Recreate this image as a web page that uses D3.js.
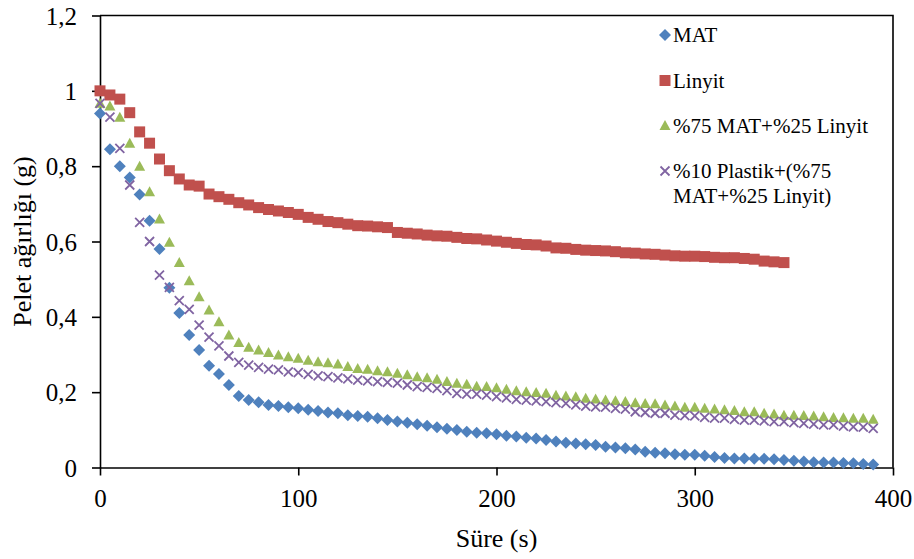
<!DOCTYPE html>
<html><head><meta charset="utf-8">
<script src="https://cdn.jsdelivr.net/npm/d3@7/dist/d3.min.js"></script>
</head>
<body style="margin:0;background:#fff">
<svg width="914" height="559" id="s"></svg>
<script>
// ---- data ----
const seriesNames = ["MAT", "Linyit", "%75 MAT+%25 Linyit", "%10 Plastik+(%75 MAT+%25 Linyit)"];
const timeStep = 5;
const matValues = [
  0.94,0.845,0.80,0.77,0.725,0.655,0.58,0.477,0.41,0.352,0.312,
  0.270,0.248,0.219,0.190,0.179,0.173,0.166,0.163,0.160,0.157,
  0.153,0.150,0.146,0.144,0.139,0.137,0.135,0.131,0.126,0.122,
  0.119,0.115,0.111,0.107,0.103,0.0995,0.095,0.092,0.091,0.088,
  0.084,0.082,0.079,0.077,0.073,0.069,0.066,0.064,0.062,0.060,
  0.055,0.053,0.051,0.048,0.042,0.039,0.038,0.035,0.034,0.034,
  0.031,0.028,0.025,0.024,0.024,0.023,0.023,0.022,0.020,0.018,
  0.016,0.014,0.013,0.013,0.012,0.011,0.009,0.008
];
const linyitValues = [
  1.0,0.989,0.978,0.942,0.891,0.861,0.819,0.788,0.766,0.75,0.747,
  0.726,0.719,0.712,0.703,0.697,0.690,0.685,0.681,0.677,0.672,
  0.664,0.659,0.653,0.650,0.646,0.642,0.641,0.639,0.637,0.624,
  0.622,0.620,0.617,0.615,0.614,0.611,0.608,0.607,0.604,0.601,
  0.598,0.595,0.592,0.591,0.588,0.583,0.582,0.579,0.577,0.576,
  0.575,0.573,0.570,0.569,0.567,0.566,0.564,0.562,0.561,0.561,
  0.560,0.558,0.557,0.557,0.555,0.553,0.548,0.546,0.544
];
const mixValues = [
  0.967,0.96,0.93,0.861,0.80,0.732,0.66,0.598,0.544,0.496,0.453,
  0.418,0.387,0.352,0.332,0.319,0.312,0.305,0.299,0.294,0.290,
  0.285,0.281,0.278,0.275,0.268,0.263,0.261,0.257,0.254,0.250,
  0.246,0.241,0.238,0.234,0.228,0.224,0.221,0.216,0.215,0.212,
  0.208,0.204,0.201,0.199,0.197,0.192,0.190,0.188,0.184,0.182,
  0.179,0.177,0.175,0.172,0.170,0.169,0.166,0.163,0.160,0.160,
  0.157,0.155,0.153,0.151,0.148,0.148,0.144,0.142,0.139,0.139,
  0.138,0.137,0.135,0.133,0.132,0.131,0.131,0.128
];
const plasticValues = [
  0.967,0.93,0.847,0.75,0.651,0.60,0.511,0.478,0.443,0.42,0.378,
  0.346,0.323,0.296,0.279,0.272,0.266,0.261,0.259,0.254,0.252,
  0.247,0.243,0.241,0.238,0.235,0.232,0.230,0.228,0.226,0.224,
  0.219,0.215,0.213,0.210,0.204,0.197,0.195,0.195,0.192,0.188,
  0.185,0.181,0.179,0.177,0.175,0.172,0.170,0.166,0.163,0.161,
  0.160,0.157,0.155,0.148,0.146,0.144,0.144,0.139,0.138,0.137,
  0.133,0.131,0.131,0.128,0.126,0.126,0.124,0.122,0.122,0.119,
  0.117,0.115,0.113,0.113,0.110,0.108,0.107,0.104
];
const xTickValues = [0, 100, 200, 300, 400];
const xTickLabels = ["0", "100", "200", "300", "400"];
const yTickValues = [0, 0.2, 0.4, 0.6, 0.8, 1.0, 1.2];
const yTickLabels = ["0", "0,2", "0,4", "0,6", "0,8", "1", "1,2"];
const xTitle = "Süre (s)";
const yTitle = "Pelet ağırlığı (g)";

// ---- layout ----
const FONT = "'Liberation Serif'";
const svg = d3.select("#s");
const L = 100, R = 893, T = 15.5, B = 467.5;
const x = d3.scaleLinear().domain([0, 400]).range([L, R]);
const y = d3.scaleLinear().domain([0, 1.2]).range([B, T]);

const colors = ["#4F81BD", "#C0504D", "#9BBB59", "#8064A2"];
const shapes = ["diamond", "square", "triangle", "cross"];
const seriesValues = [matValues, linyitValues, mixValues, plasticValues];

function toPoints(vals){ return vals.map((v,i)=>({t:i*timeStep, v:v})); }

function shapePath(shape){
  switch(shape){
    case "diamond": return "M0,-6L6,0L0,6L-6,0Z";
    case "square": return "M-5.5,-5.5H5.5V5.5H-5.5Z";
    case "triangle": return "M0,-5.5L5.5,4.5L-5.5,4.5Z";
    case "cross": return "M-4.5,-4.5L4.5,4.5M4.5,-4.5L-4.5,4.5";
  }
}
function drawMarker(g, shape, color){
  const p = g.append("path").attr("d", shapePath(shape));
  if(shape === "cross"){
    p.attr("fill","none").attr("stroke",color).attr("stroke-width",1.8);
  } else {
    p.attr("fill",color);
  }
}

// axes
const yAxis = d3.axisLeft(y).tickValues(yTickValues)
  .tickFormat((d,i)=>yTickLabels[i]).tickSize(8).tickSizeOuter(0).tickPadding(15);
const gy = svg.append("g").attr("transform",`translate(${L},0)`).call(yAxis);
gy.attr("font-family", FONT).attr("font-size", 25);
gy.selectAll("text").attr("fill","#000").attr("dy","0.34em")
  .attr("font-family", FONT).attr("font-size", 25);

const xAxis = d3.axisBottom(x).tickValues(xTickValues)
  .tickFormat((d,i)=>xTickLabels[i]).tickSize(8).tickSizeOuter(0).tickPadding(14);
const gx = svg.append("g").attr("transform",`translate(0,${B})`).call(xAxis);
gx.attr("font-family", FONT).attr("font-size", 25);
gx.selectAll("text").attr("fill","#000").attr("y",39.5).attr("dy",null)
  .attr("font-family", FONT).attr("font-size", 25);

[gx, gy].forEach(g=>{
  g.select(".domain").attr("stroke","#000").attr("stroke-width",1.6);
  g.selectAll(".tick line").attr("stroke","#000").attr("stroke-width",1.6);
});

// frame (top and right)
svg.append("path")
  .attr("d",`M${L},${T}H${R}V${B}`)
  .attr("fill","none").attr("stroke","#000").attr("stroke-width",1.6);

// series
seriesValues.forEach((vals, si)=>{
  const g = svg.append("g");
  toPoints(vals).forEach(d=>{
    const m = g.append("g").attr("transform",`translate(${x(d.t)},${y(d.v)})`);
    drawMarker(m, shapes[si], colors[si]);
  });
});

// titles
svg.append("text").attr("x",(L+R)/2).attr("y",547).attr("text-anchor","middle")
  .attr("font-family", FONT).attr("font-size",26).attr("fill","#000").text(xTitle);
svg.append("text").attr("transform",`translate(31,${(T+B)/2}) rotate(-90)`)
  .attr("text-anchor","middle").attr("font-family", FONT).attr("font-size",26)
  .attr("fill","#000").text(yTitle);

// legend
const legend = svg.append("g");
const legendRows = [
  {lines:["MAT"], y:35},
  {lines:["Linyit"], y:80.5},
  {lines:["%75 MAT+%25 Linyit"], y:125.5},
  {lines:["%10 Plastik+(%75","MAT+%25 Linyit)"], y:171}
];
legendRows.forEach((r, i)=>{
  const m = legend.append("g").attr("transform",`translate(665,${r.y})`);
  drawMarker(m, shapes[i], colors[i]);
  r.lines.forEach((ln, j)=>{
    legend.append("text").attr("x",673).attr("y",r.y + 7 + j*25)
      .attr("font-family", FONT).attr("font-size",21).attr("fill","#000").text(ln);
  });
});
</script>
</body></html>
